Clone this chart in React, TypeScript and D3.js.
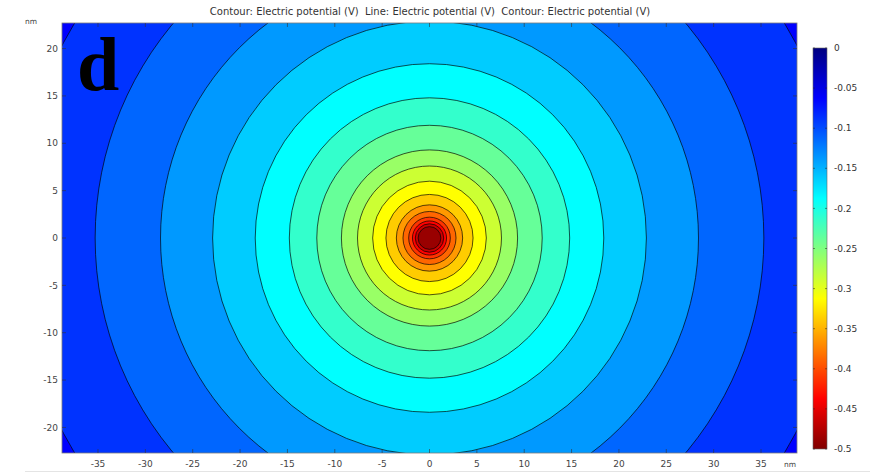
import * as d3 from "d3";

// contour levels (V) and the radius (nm) where each ring sits
const contourLevels = [
  -0.075, -0.1, -0.125, -0.15, -0.175, -0.2, -0.225, -0.25, -0.275, -0.3,
  -0.325, -0.35, -0.375, -0.4, -0.425, -0.45, -0.475,
];
const contourRadii = [
  43.8, 35.3, 28.4, 22.9, 18.4, 14.8, 11.9, 9.3, 7.6, 6.0,
  4.6, 3.5, 2.8, 2.2, 1.8, 1.5, 1.2,
];

const xTicks = [-35, -30, -25, -20, -15, -10, -5, 0, 5, 10, 15, 20, 25, 30, 35];
const yTicks = [-20, -15, -10, -5, 0, 5, 10, 15, 20];
const colorTicks = [0, -0.05, -0.1, -0.15, -0.2, -0.25, -0.3, -0.35, -0.4, -0.45, -0.5];

const TITLE =
  "Contour: Electric potential (V)  Line: Electric potential (V)  Contour: Electric potential (V)";

const W = 875;
const H = 474;
const plot = { left: 62, right: 797, top: 23, bottom: 453 };
const bar = { left: 813, right: 827, top: 48, bottom: 449 };
const FONT = "DejaVu Sans, sans-serif";

// jet-like colour map (0 = dark navy, -0.5 = dark red)
const jet = d3
  .scaleLinear<string>()
  .domain([-0.5, -0.4375, -0.3125, -0.1875, -0.0625, 0])
  .range(["#800000", "#ff0000", "#ffff00", "#00ffff", "#0000ff", "#000080"])
  .interpolate(d3.interpolateRgb)
  .clamp(true);

export default function App() {
  const x = d3.scaleLinear().domain([-38.8, 38.8]).range([plot.left, plot.right]);
  const y = d3.scaleLinear().domain([-22.7, 22.7]).range([plot.bottom, plot.top]);
  const c = d3.scaleLinear().domain([-0.5, 0]).range([bar.bottom, bar.top]);

  const step = contourLevels[0] - contourLevels[1];
  const outerValue = contourLevels[0] + step / 2;
  const bandValue = (i: number) =>
    i < contourLevels.length - 1
      ? (contourLevels[i] + contourLevels[i + 1]) / 2
      : contourLevels[i] - step / 2;

  const cx = x(0);
  const cy = y(0);
  const pw = plot.right - plot.left;
  const ph = plot.bottom - plot.top;

  // offset 0 = bottom of the bar = -0.5 V
  const gradStops = d3.range(0, 1.0001, 0.025).map(t => ({
    offset: t,
    color: jet(-0.5 + t * 0.5),
  }));

  const fmt = (v: number) => (Math.abs(v) < 1e-9 ? "0" : String(+v.toFixed(2)));

  return (
    <svg
      width={W}
      height={H}
      style={{ position: "absolute", left: 0, top: 0, background: "#fff" }}
      fontFamily={FONT}
    >
      <defs>
        <clipPath id="plot-clip">
          <rect x={plot.left} y={plot.top} width={pw} height={ph} />
        </clipPath>
        <linearGradient id="jet-grad" x1="0" y1="1" x2="0" y2="0">
          {gradStops.map(s => (
            <stop key={s.offset} offset={s.offset} stopColor={s.color} />
          ))}
        </linearGradient>
      </defs>

      <text
        x={430}
        y={15}
        textAnchor="middle"
        fontSize={10}
        fill="#333"
        style={{ whiteSpace: "pre" }}
      >
        {TITLE}
      </text>

      {/* filled contour bands */}
      <g clipPath="url(#plot-clip)">
        <rect x={plot.left} y={plot.top} width={pw} height={ph} fill={jet(outerValue)} />
        {contourRadii.map((r, i) => (
          <circle
            key={i}
            cx={cx}
            cy={cy}
            r={x(r) - x(0)}
            fill={jet(bandValue(i))}
            stroke="#000"
            strokeOpacity={0.75}
            strokeWidth={0.9}
          />
        ))}
      </g>

      {/* frame + ticks */}
      <rect
        x={plot.left}
        y={plot.top}
        width={pw}
        height={ph}
        fill="none"
        stroke="#7a7a7a"
        strokeWidth={0.8}
      />
      {xTicks.map(t => (
        <g key={"x" + t}>
          <line x1={x(t)} x2={x(t)} y1={plot.bottom} y2={plot.bottom - 4} stroke="#333" strokeOpacity={0.6} />
          <line x1={x(t)} x2={x(t)} y1={plot.top} y2={plot.top + 4} stroke="#333" strokeOpacity={0.6} />
          <text x={x(t)} y={plot.bottom + 14} textAnchor="middle" fontSize={9} fill="#444">
            {t}
          </text>
        </g>
      ))}
      {yTicks.map(t => (
        <g key={"y" + t}>
          <line x1={plot.left} x2={plot.left + 4} y1={y(t)} y2={y(t)} stroke="#333" strokeOpacity={0.6} />
          <line x1={plot.right} x2={plot.right - 4} y1={y(t)} y2={y(t)} stroke="#333" strokeOpacity={0.6} />
          <text x={58} y={y(t)} dy="0.35em" textAnchor="end" fontSize={9} fill="#444">
            {t}
          </text>
        </g>
      ))}
      <text x={31} y={24} textAnchor="middle" fontSize={7.5} fill="#444">
        nm
      </text>
      <text x={790} y={467} textAnchor="middle" fontSize={7.5} fill="#444">
        nm
      </text>

      {/* panel letter */}
      <text
        x={77}
        y={90}
        fontFamily="Liberation Serif, serif"
        fontWeight="bold"
        fontSize={76}
        fill="#000"
      >
        d
      </text>

      {/* colour bar */}
      <rect
        x={bar.left}
        y={bar.top}
        width={bar.right - bar.left}
        height={bar.bottom - bar.top}
        fill="url(#jet-grad)"
        stroke="#666"
        strokeWidth={0.6}
      />
      {colorTicks.map(v => (
        <g key={"c" + v}>
          <line x1={bar.left} x2={bar.left + 2} y1={c(v)} y2={c(v)} stroke="#222" strokeOpacity={0.5} />
          <line x1={bar.right} x2={bar.right - 2} y1={c(v)} y2={c(v)} stroke="#222" strokeOpacity={0.5} />
          <text x={bar.right + 7} y={c(v)} dy="0.35em" fontSize={9} fill="#333">
            {fmt(v)}
          </text>
        </g>
      ))}

      <line x1={25} x2={870} y1={471.5} y2={471.5} stroke="#e4e4e4" strokeWidth={1} />
    </svg>
  );
}
